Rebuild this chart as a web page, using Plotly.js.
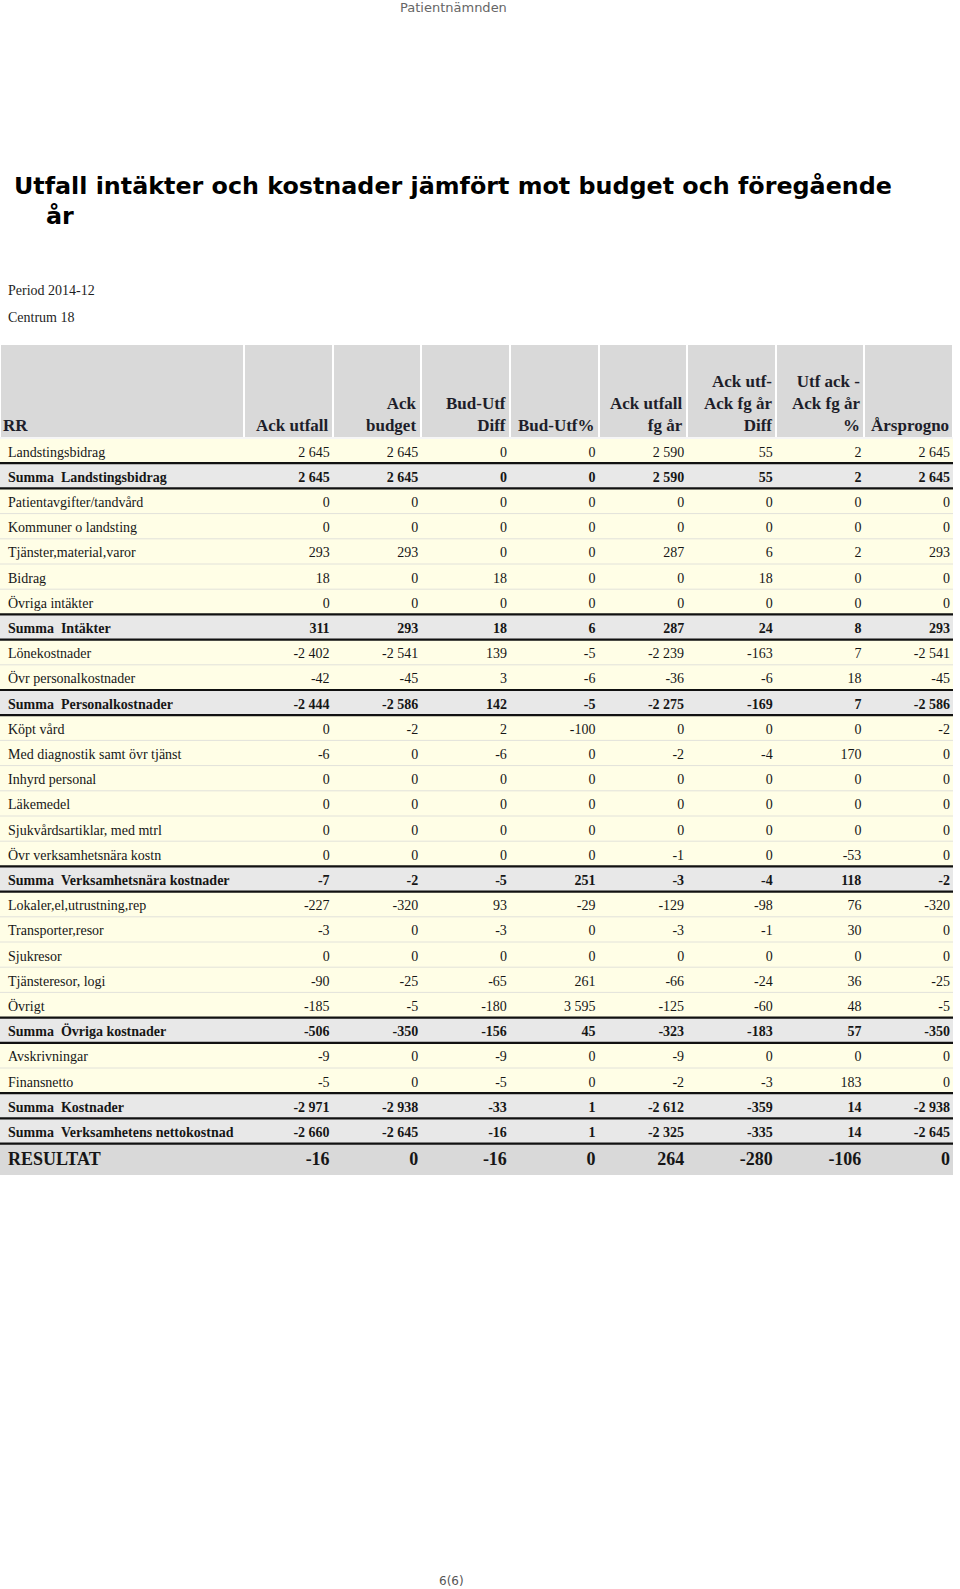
<!DOCTYPE html>
<html>
<head>
<meta charset="utf-8">
<script src="https://cdn.plot.ly/plotly-3.0.1.min.js"></script>
<style>html, body { margin: 0; padding: 0; background: #fff; }</style>
</head>
<body>
<div id="chart" style="width:960px;height:1589px"></div>
<script>
// ====== Data ======
var headerLines = [
  ['RR'], ['Ack utfall'], ['Ack', 'budget'], ['Bud-Utf', 'Diff'], ['Bud-Utf%'],
  ['Ack utfall', 'fg år'], ['Ack utf-', 'Ack fg år', 'Diff'], ['Utf ack -', 'Ack fg år', '%'], ['Årsprogno']
];
var rowLabels = [
  'Landstingsbidrag', 'Summa  Landstingsbidrag', 'Patientavgifter/tandvård', 'Kommuner o landsting',
  'Tjänster,material,varor', 'Bidrag', 'Övriga intäkter', 'Summa  Intäkter', 'Lönekostnader',
  'Övr personalkostnader', 'Summa  Personalkostnader', 'Köpt vård', 'Med diagnostik samt övr tjänst',
  'Inhyrd personal', 'Läkemedel', 'Sjukvårdsartiklar, med mtrl', 'Övr verksamhetsnära kostn',
  'Summa  Verksamhetsnära kostnader', 'Lokaler,el,utrustning,rep', 'Transporter,resor', 'Sjukresor',
  'Tjänsteresor, logi', 'Övrigt', 'Summa  Övriga kostnader', 'Avskrivningar', 'Finansnetto',
  'Summa  Kostnader', 'Summa  Verksamhetens nettokostnad', 'RESULTAT'
];
var ackUtfall   = [2645, 2645, 0, 0, 293, 18, 0, 311, -2402, -42, -2444, 0, -6, 0, 0, 0, 0, -7, -227, -3, 0, -90, -185, -506, -9, -5, -2971, -2660, -16];
var ackBudget   = [2645, 2645, 0, 0, 293, 0, 0, 293, -2541, -45, -2586, -2, 0, 0, 0, 0, 0, -2, -320, 0, 0, -25, -5, -350, 0, 0, -2938, -2645, 0];
var budUtfDiff  = [0, 0, 0, 0, 0, 18, 0, 18, 139, 3, 142, 2, -6, 0, 0, 0, 0, -5, 93, -3, 0, -65, -180, -156, -9, -5, -33, -16, -16];
var budUtfPct   = [0, 0, 0, 0, 0, 0, 0, 6, -5, -6, -5, -100, 0, 0, 0, 0, 0, 251, -29, 0, 0, 261, 3595, 45, 0, 0, 1, 1, 0];
var ackUtfallFg = [2590, 2590, 0, 0, 287, 0, 0, 287, -2239, -36, -2275, 0, -2, 0, 0, 0, -1, -3, -129, -3, 0, -66, -125, -323, -9, -2, -2612, -2325, 264];
var diffFg      = [55, 55, 0, 0, 6, 18, 0, 24, -163, -6, -169, 0, -4, 0, 0, 0, 0, -4, -98, -1, 0, -24, -60, -183, 0, -3, -359, -335, -280];
var pctFg       = [2, 2, 0, 0, 2, 0, 0, 8, 7, 18, 7, 0, 170, 0, 0, 0, -53, 118, 76, 30, 0, 36, 48, 57, 0, 183, 14, 14, -106];
var arsprognos  = [2645, 2645, 0, 0, 293, 0, 0, 293, -2541, -45, -2586, -2, 0, 0, 0, 0, 0, -2, -320, 0, 0, -25, -5, -350, 0, 0, -2938, -2645, 0];

// ====== Page geometry ======
var W = 960, H = 1589;
var tableTop = 344, headH = 94, rowH = 25.2, resH = 31, tableRight = 953;
var shift = 5; // body columns pushed right so numbers sit close to the column edge
function yp(px) { return 1 - px / H; }

function fmt(n) {
  var s = String(Math.abs(n)).replace(/\B(?=(\d{3})+(?!\d))/g, '\u00a0');
  return (n < 0 ? '-' : '') + s;
}
function nb(s) { return s.replace(/ /g, '\u00a0'); }
function isSum(lbl) { return lbl.indexOf('Summa') === 0; }

var valueCols = [ackUtfall, ackBudget, budUtfDiff, budUtfPct, ackUtfallFg, diffFg, pctFg, arsprognos];
var nBody = rowLabels.length - 1;
var bodyLabels = rowLabels.slice(0, nBody);

var cellVals = [bodyLabels.map(nb)];
valueCols.forEach(function (col) { cellVals.push(col.slice(0, nBody).map(fmt)); });

var rowFill = bodyLabels.map(function (l) { return isSum(l) ? '#e8e8e8' : '#fffee6'; });
var rowWeight = bodyLabels.map(function (l) { return isSum(l) ? 700 : 400; });
var fillGrid = cellVals.map(function () { return rowFill; });
var weightGrid = cellVals.map(function () { return rowWeight; });

var colWidths = [244];
for (var c = 0; c < 8; c++) colWidths.push((tableRight - 244) / 8);
var bodyWidths = colWidths.slice();
bodyWidths[0] += shift;
var aligns = ['left', 'right', 'right', 'right', 'right', 'right', 'right', 'right', 'right'];

var tableFont = 'Liberation Serif, Times New Roman, serif';
var bodyTop = tableTop + headH;
var blank = headerLines.map(function () { return ''; });

var body = {
  type: 'table',
  domain: { x: [0, (tableRight + shift) / W], y: [0, yp(tableTop)] },
  columnwidth: bodyWidths,
  header: { values: blank, height: headH, fill: { color: '#d9d9d9' }, line: { color: '#d9d9d9', width: 1 } },
  cells: {
    values: cellVals,
    align: aligns,
    height: rowH,
    fill: { color: fillGrid },
    line: { color: fillGrid, width: 1 },
    font: { family: tableFont, size: 14, color: '#161616', weight: weightGrid }
  }
};

// header band with the real column edges, drawn over the body's header
var head = {
  type: 'table',
  domain: { x: [0, tableRight / W], y: [yp(bodyTop), yp(tableTop)] },
  columnwidth: colWidths,
  header: { values: blank, height: headH, fill: { color: '#d9d9d9' }, line: { color: '#ffffff', width: 2 } },
  cells: { values: [] }
};

var last = nBody;
var resVals = [rowLabels[last]].concat(valueCols.map(function (col) { return fmt(col[last]); }));
var result = {
  type: 'table',
  domain: { x: [0, (tableRight + shift) / W], y: [0, yp(bodyTop + nBody * rowH)] },
  columnwidth: bodyWidths,
  header: {
    values: resVals,
    align: aligns,
    height: resH,
    fill: { color: '#d9d9d9' },
    line: { color: '#d9d9d9', width: 1 },
    font: { family: tableFont, size: 18, color: '#161616', weight: 700 }
  },
  cells: { values: [] }
};

// white strip masks the shifted right edge; row separators black around sum rows, faint otherwise
var shapes = [{
  type: 'rect', xref: 'paper', yref: 'paper', layer: 'above',
  x0: tableRight / W, x1: 1, y0: yp(bodyTop + nBody * rowH + resH + 2), y1: yp(tableTop - 2),
  line: { width: 0 }, fillcolor: '#ffffff'
}];
for (var k = 0; k <= nBody; k++) {
  var y = yp(bodyTop + k * rowH);
  var strong = k === nBody || isSum(rowLabels[k]) || (k > 0 && isSum(rowLabels[k - 1]));
  var color = k === 0 ? '#ffffff' : (strong ? '#111111' : '#e2e2da');
  var width = k === 0 ? 1.5 : (strong ? 2.2 : 1);
  shapes.push({
    type: 'line', xref: 'paper', yref: 'paper', layer: 'above',
    x0: 0, x1: tableRight / W, y0: y, y1: y,
    line: { color: color, width: width }
  });
}

function note(text, xpx, ypx, font, anchor, yanchor, align) {
  return {
    text: text, xref: 'paper', yref: 'paper', x: xpx / W, y: yp(ypx),
    xanchor: anchor || 'left', yanchor: yanchor || 'middle', align: align || 'left',
    showarrow: false, font: font
  };
}
var sans = 'DejaVu Sans, Verdana, sans-serif';
var annotations = [
  note('Patientnämnden', 453, 7, { family: sans, size: 13, color: '#666666' }, 'center'),
  note('<b>Utfall intäkter och kostnader jämfört mot budget och föregående</b>', 12, 186, { family: sans, size: 23.8, color: '#000000' }),
  note('<b>år</b>', 44, 216, { family: sans, size: 23.8, color: '#000000' }),
  note('Period 2014-12', 6, 290, { family: tableFont, size: 14, color: '#1e1e1e' }),
  note('Centrum 18', 6, 318, { family: tableFont, size: 14, color: '#1e1e1e' }),
  note('6(6)', 451, 1581, { family: sans, size: 12, color: '#555555' }, 'center')
];

// column titles, bottom/right aligned in the header cells
var headFont = { family: tableFont, size: 17, color: '#1e1e2a', weight: 700 };
var edge = 0;
headerLines.forEach(function (lines, i) {
  edge += colWidths[i];
  var txt = lines.map(nb).join('<br>');
  if (i === 0) annotations.push(note(txt, 1, bodyTop - 1, headFont, 'left', 'bottom', 'left'));
  else annotations.push(note(txt, edge - 2, bodyTop - 1, headFont, 'right', 'bottom', 'right'));
});

var layout = {
  width: W, height: H,
  margin: { t: 0, b: 0, l: 0, r: 0 },
  paper_bgcolor: '#ffffff',
  showlegend: false,
  shapes: shapes,
  annotations: annotations
};

Plotly.newPlot('chart', [body, head, result], layout, { displayModeBar: false, staticPlot: true });
</script>
</body>
</html>
